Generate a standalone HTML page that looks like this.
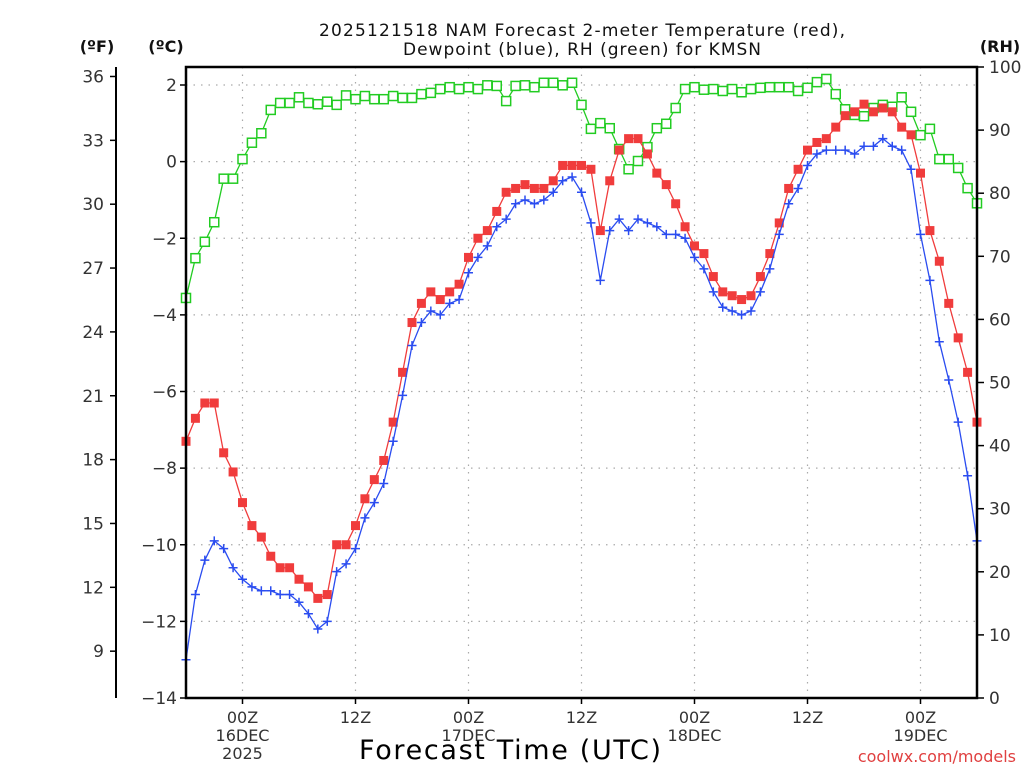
<!DOCTYPE html>
<html><head><meta charset="utf-8"><style>
html,body{margin:0;padding:0;background:#fff;}
svg{display:block;font-family:"DejaVu Sans","Liberation Sans",sans-serif;}
</style></head><body>
<svg id="chart" width="1024" height="768" xmlns="http://www.w3.org/2000/svg"></svg>
<script>
const hours = Array.from({length:85},(_,i)=>i); // forecast hours from 18Z 15DEC
const tempC = [-7.3,-6.7,-6.3,-6.3,-7.6,-8.1,-8.9,-9.5,-9.8,-10.3,-10.6,-10.6,-10.9,-11.1,-11.4,-11.3,-10.0,-10.0,-9.5,-8.8,-8.3,-7.8,-6.8,-5.5,-4.2,-3.7,-3.4,-3.6,-3.4,-3.2,-2.5,-2.0,-1.8,-1.3,-0.8,-0.7,-0.6,-0.7,-0.7,-0.5,-0.1,-0.1,-0.1,-0.2,-1.8,-0.5,0.3,0.6,0.6,0.2,-0.3,-0.6,-1.1,-1.7,-2.2,-2.4,-3.0,-3.4,-3.5,-3.6,-3.5,-3.0,-2.4,-1.6,-0.7,-0.2,0.3,0.5,0.6,0.9,1.2,1.3,1.5,1.3,1.4,1.3,0.9,0.7,-0.3,-1.8,-2.6,-3.7,-4.6,-5.5,-6.8];
const dewC = [-13.0,-11.3,-10.4,-9.9,-10.1,-10.6,-10.9,-11.1,-11.2,-11.2,-11.3,-11.3,-11.5,-11.8,-12.2,-12.0,-10.7,-10.5,-10.1,-9.3,-8.9,-8.4,-7.3,-6.1,-4.8,-4.2,-3.9,-4.0,-3.7,-3.6,-2.9,-2.5,-2.2,-1.7,-1.5,-1.1,-1.0,-1.1,-1.0,-0.8,-0.5,-0.4,-0.8,-1.6,-3.1,-1.8,-1.5,-1.8,-1.5,-1.6,-1.7,-1.9,-1.9,-2.0,-2.5,-2.8,-3.4,-3.8,-3.9,-4.0,-3.9,-3.4,-2.8,-1.9,-1.1,-0.7,-0.1,0.2,0.3,0.3,0.3,0.2,0.4,0.4,0.6,0.4,0.3,-0.2,-1.9,-3.1,-4.7,-5.7,-6.8,-8.2,-9.9];
const rh = [63.4,69.7,72.3,75.4,82.3,82.3,85.4,88.0,89.5,93.2,94.3,94.3,95.2,94.3,94.1,94.5,94.0,95.5,94.9,95.4,94.9,94.9,95.4,95.1,95.1,95.7,95.9,96.5,96.8,96.5,96.8,96.5,97.1,97.0,94.6,97.0,97.1,96.8,97.5,97.5,97.1,97.5,94.0,90.2,91.1,90.3,87.0,83.8,85.1,87.3,90.3,91.0,93.5,96.5,96.8,96.4,96.5,96.2,96.5,96.0,96.5,96.7,96.8,96.8,96.8,96.2,96.7,97.6,98.1,95.7,93.3,92.4,92.2,93.5,94.0,93.7,95.2,92.9,89.2,90.2,85.4,85.4,84.0,80.8,78.4];
const cTicks = [2,0,-2,-4,-6,-8,-10,-12,-14];
const fTicks = [36,33,30,27,24,21,18,15,12,9];
const rhTicks = [100,90,80,70,60,50,40,30,20,10,0];
const timeTicks = [6,18,30,42,54,66,78];
const timeLabels = [["00Z","16DEC","2025"],["12Z"],["00Z","17DEC"],["12Z"],["00Z","18DEC"],["12Z"],["00Z","19DEC"]];

const L=186,R=977,T=67,B=698;
const X=h=>L+(h-0)*(R-L)/84;
const YC=c=>85+(2-c)*(698-85)/16;
const YF=f=>YC((f-32)*5/9);
const YRH=v=>B-(v/100)*(B-T);
const svg=document.getElementById('chart');
const NS='http://www.w3.org/2000/svg';
function mk(tag,attrs,parent){const e=document.createElementNS(NS,tag);for(const k in attrs)e.setAttribute(k,attrs[k]);(parent||svg).appendChild(e);return e;}
function txt(s,attrs,parent){const e=mk('text',attrs,parent);e.textContent=s;return e;}

// grid
const grid=mk('g',{});


cTicks.slice(0,-1).forEach(c=>{mk('line',{x1:L,x2:R,y1:YC(c),y2:YC(c),stroke:'#aaa','stroke-width':1.2,'stroke-dasharray':'1.5 6'},grid);});
timeTicks.forEach(h=>{mk('line',{x1:X(h),x2:X(h),y1:T,y2:B,stroke:'#aaa','stroke-width':1.2,'stroke-dasharray':'1.5 6'},grid);});

// title
const title=mk('g',{});


txt('2025121518 NAM Forecast 2-meter Temperature (red),',{x:582,y:36,'text-anchor':'middle','font-size':17,fill:'#111',textLength:526,lengthAdjust:'spacing'},title);
txt('Dewpoint (blue), RH (green) for KMSN',{x:582,y:55,'text-anchor':'middle','font-size':17,fill:'#111',textLength:358,lengthAdjust:'spacing'},title);

// axis unit labels
const uf=txt('(ºF)',{x:97,y:52,'text-anchor':'middle','font-size':16,'font-weight':'bold',fill:'#111'});


const uc=txt('(ºC)',{x:166,y:52,'text-anchor':'middle','font-size':16,'font-weight':'bold',fill:'#111'});


const ur=txt('(RH)',{x:1000,y:52,'text-anchor':'middle','font-size':16,'font-weight':'bold',fill:'#111'});



// F axis
const fax=mk('g',{});


mk('line',{x1:116,x2:116,y1:T,y2:B,stroke:'#000','stroke-width':2},fax);
fTicks.forEach(f=>{const y=YF(f);mk('line',{x1:110,x2:116,y1:y,y2:y,stroke:'#000','stroke-width':1.5},fax);txt(String(f),{x:104,y:y+6,'text-anchor':'end','font-size':17,fill:'#333'},fax);});

// C axis
const cax=mk('g',{});


cTicks.forEach(c=>{const y=YC(c);mk('line',{x1:180,x2:186,y1:y,y2:y,stroke:'#000','stroke-width':1.5},cax);txt(String(c).replace('-','\u2212'),{x:177,y:y+6,'text-anchor':'end','font-size':17,fill:'#333'},cax);});

// RH axis
const rax=mk('g',{});


rhTicks.forEach(v=>{const y=YRH(v);mk('line',{x1:977,x2:984,y1:y,y2:y,stroke:'#000','stroke-width':1.5},rax);txt(String(v),{x:989,y:y+6,'font-size':17,fill:'#333'},rax);});

// time axis
const tax=mk('g',{});


timeTicks.forEach((h,i)=>{const x=X(h);mk('line',{x1:x,x2:x,y1:B,y2:B+6,stroke:'#000','stroke-width':1.5},tax);timeLabels[i].forEach((s,j)=>txt(s,{x:x,y:723+j*18,'text-anchor':'middle','font-size':16,fill:'#333'},tax));});
const xt=txt('Forecast Time (UTC)',{x:510,y:759,'text-anchor':'middle','font-size':27,fill:'#000',textLength:302,lengthAdjust:'spacing'});


const cr=txt('coolwx.com/models',{x:1016,y:762,'text-anchor':'end','font-size':16,fill:'#e04040'});



// series
function series(vals,yf,color,name,marker){
  const g=mk('g',{});
  
  
  mk('polyline',{points:vals.map((v,i)=>X(hours[i])+','+yf(v)).join(' '),fill:'none',stroke:color,'stroke-width':1.3},g);
  vals.forEach((v,i)=>{const x=X(hours[i]),y=yf(v);let m;
    if(marker==='fill'){m=mk('rect',{x:x-4.5,y:y-4.5,width:9,height:9,fill:color},g);}
    else if(marker==='open'){m=mk('rect',{x:x-4.5,y:y-4.5,width:9,height:9,fill:'#fff',stroke:color,'stroke-width':1.5},g);}
    else{m=mk('path',{d:`M${x-4.5},${y}H${x+4.5}M${x},${y-4.5}V${y+4.5}`,stroke:color,'stroke-width':1.5},g);}
    
    
  });
}
series(rh,YRH,'#22cc22','rh-series','open');
series(tempC,YC,'#f03c3c','temperature-series','fill');
series(dewC,YC,'#2a4cf0','dewpoint-series','plus');

// frame
const fr=mk('path',{d:`M${L},${T}H${R}V${B}H${L}Z`,fill:'none',stroke:'#000','stroke-width':2.5});


</script>
</body></html>
